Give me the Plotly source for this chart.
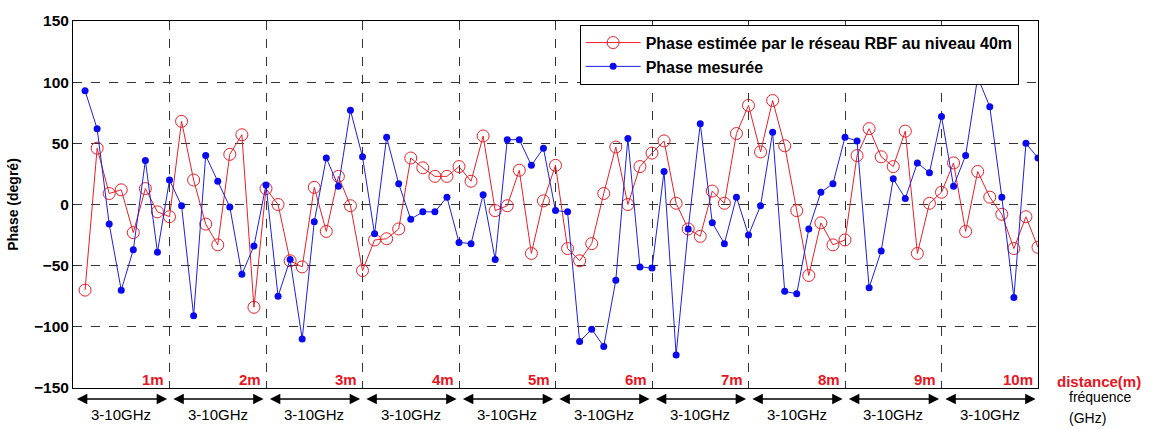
import plotly.graph_objects as go

# ---- data ----
idx = list(range(1, 81))
phase_mesuree = [93, 62, -16, -70, -37, 36, -39, 20,
                 -1, -91, 40, 19, -2, -57, -34, 16,
                 -75, -45, -110, -14, 38, 15, 77, 39,
                 -24, 55, 17, -12, -6, -6, 6, -31,
                 -32, 8, -45, 53, 53, 32, 46, -5,
                 -6, -112, -102, -116, -62, 54, -51, -52,
                 27, -123, -20, 66, -15, -32, 6, -25,
                 -1, 59, -71, -73, -20, 10, 17, 55,
                 52, -68, -38, 21, 5, 34, 26, 72,
                 15, 40, 104, 80, 6, -76, 50, 38]
phase_estimee = [-70, 46, 9, 12, -23, 13, -6, -10,
                 68, 20, -16, -33, 41, 57, -84, 13,
                 0, -46, -51, 14, -22, 23, -1, -54,
                 -29, -28, -20, 38, 30, 23, 23, 31,
                 19, 56, -5, -1, 28, -40, 3, 32,
                 -36, -46, -32, 9, 47, 0, 31, 42,
                 52, 1, -20, -26, 11, 1, 58, 81,
                 43, 85, 48, -5, -58, -15, -33, -29,
                 40, 62, 39, 31, 60, -40, 1, 10,
                 34, -22, 27, 6, -8, -36, -10, -35]
distances = ["1m", "2m", "3m", "4m", "5m", "6m", "7m", "8m", "9m", "10m"]
band_label = "3-10GHz"
pts_per_distance = 8
y_ticks = [-150, -100, -50, 0, 50, 100, 150]

FONT = "Liberation Sans"
RED = "#e8141e"

fig = go.Figure()
fig.add_trace(go.Scatter(
    x=idx, y=phase_estimee, mode="lines+markers",
    name="Phase estimée par le réseau RBF au niveau 40m",
    line=dict(color="#e8202a", width=1),
    marker=dict(symbol="circle-open", size=12, color="#e8202a", line=dict(width=1)),
))
fig.add_trace(go.Scatter(
    x=idx, y=phase_mesuree, mode="lines+markers",
    name="Phase mesurée",
    line=dict(color="#1f1fe0", width=1),
    marker=dict(symbol="circle", size=7, color="#0a0af0"),
))

n_seg = len(distances)
ann = []
for k, d in enumerate(distances):
    x0 = k * pts_per_distance
    x1 = (k + 1) * pts_per_distance
    ann.append(dict(x=x1 - 0.25, y=-0.006, xref="x", yref="paper", text=d,
                    showarrow=False, xanchor="right", yanchor="bottom",
                    font=dict(family=FONT, size=15, color=RED, weight="bold")))
    ann.append(dict(x=x1 - 0.2, y=-0.03, xref="x", yref="paper",
                    ax=x0 + 0.2, ay=0, axref="x", ayref="pixel",
                    showarrow=True, arrowside="end+start", arrowhead=2,
                    arrowsize=1.3, arrowwidth=1.6, arrowcolor="black", text=""))
    ann.append(dict(x=(x0 + x1) / 2, y=-0.073, xref="x", yref="paper", text=band_label,
                    showarrow=False, xanchor="center", yanchor="middle",
                    font=dict(family=FONT, size=15, color="black")))

ann.append(dict(x=1.018, y=0.019, xref="paper", yref="paper", text="distance(m)",
                showarrow=False, xanchor="left", yanchor="middle",
                font=dict(family=FONT, size=15, color=RED, weight="bold")))
ann.append(dict(x=1.03, y=-0.024, xref="paper", yref="paper", text="fréquence",
                showarrow=False, xanchor="left", yanchor="middle",
                font=dict(family=FONT, size=14, color="black")))
ann.append(dict(x=1.03, y=-0.081, xref="paper", yref="paper", text="(GHz)",
                showarrow=False, xanchor="left", yanchor="middle",
                font=dict(family=FONT, size=14, color="black")))

fig.update_layout(
    width=1158, height=429,
    margin=dict(l=72, r=120, t=16, b=41),
    paper_bgcolor="white", plot_bgcolor="white",
    font=dict(family=FONT, color="black"),
    showlegend=True,
    legend=dict(x=0.525, y=0.99, xanchor="left", yanchor="top",
                bgcolor="white", bordercolor="black", borderwidth=1,
                font=dict(family=FONT, size=16, weight="bold"),
                tracegroupgap=0, itemwidth=55),
    annotations=ann,
)
fig.update_xaxes(
    range=[0, n_seg * pts_per_distance],
    tickvals=[pts_per_distance * k for k in range(1, n_seg)],
    showticklabels=False, ticks="",
    showgrid=True, gridcolor="#333333", griddash="dash", gridwidth=1,
    showline=True, linecolor="black", linewidth=1, mirror=True,
    zeroline=False,
)
fig.update_yaxes(
    range=[-150, 150], tickvals=y_ticks,
    ticks="", tickfont=dict(family=FONT, size=15.5, weight="bold"),
    showgrid=True, gridcolor="#333333", griddash="dash", gridwidth=1,
    showline=True, linecolor="black", linewidth=1, mirror=True,
    zeroline=False,
    title=dict(text="Phase (degré)", font=dict(family=FONT, size=14, weight="bold"), standoff=12),
)

fig.write_html("out.html", config={"displayModeBar": False},
               post_script="document.body.style.margin='0';document.body.style.overflow='hidden';")
